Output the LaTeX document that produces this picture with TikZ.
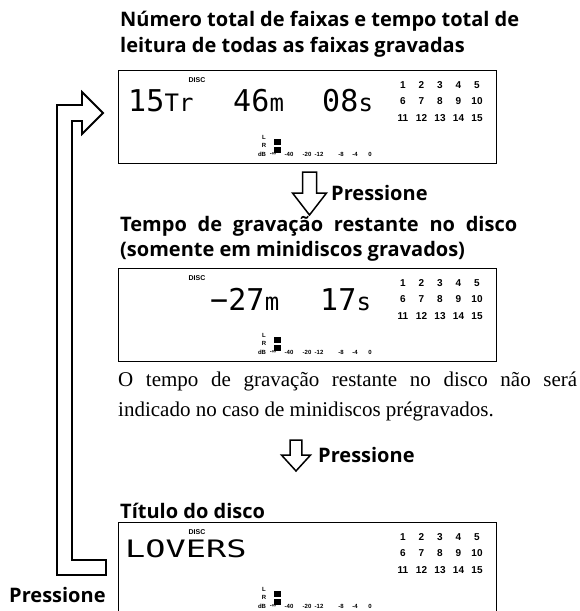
\documentclass[tikz,border=0pt]{standalone}
\usepackage{fontspec}
\setmainfont{Liberation Serif}
\newfontfamily\headfont{Open Sans}
\newfontfamily\smallfont{Liberation Sans}
\newfontfamily\lcdfont{DejaVu Sans Mono}
\usetikzlibrary{positioning}

% visor de cristal liquido: moldura, DISC, faixas e medidor
\newcommand{\lcdpanel}[2]{%
  \node[panel] (#1) at (118,#2) {};
  \begin{scope}[shift={(118,#2)}]
    \node[disc] (#1-disc) at (79,10) {DISC};
    % grelha de faixas
    \foreach \n in {1,...,15} {
      \pgfmathtruncatemacro{\col}{mod(\n-1,5)}
      \pgfmathtruncatemacro{\row}{div(\n-1,5)}
      \node[track] (#1-t\n) at (285+18.5*\col,15+16.5*\row) {\n};
    }
    % medidor de nivel
    \node[tiny] (#1-l) at (146,67) {L};
    \node[tiny] (#1-r) at (146,75.5) {R};
    \node[tiny] (#1-db) at (144,84) {dB};
    \fill (156,69) rectangle (163,75);
    \fill (156,77) rectangle (163,83);
    \foreach \v/\x in {-∞/155,-40/171,-20/189,-12/201,-8/223,-4/237,0/252}
      \node[tiny] (#1-s\x) at (\x,84) {\v};
  \end{scope}}

% seta oca para baixo
\newcommand{\pressarrow}[4]{%
  \draw[hollow, shift={(#1,#2)}, xscale=#3, yscale=#4]
    (-7,0) -- (7,0) -- (7,21) -- (17,21) -- (0,43) -- (-17,21) -- (-7,21) -- cycle;}

\begin{document}
\begin{tikzpicture}[x=1pt, y=-1pt,
    panel/.style={draw, line width=1.2pt, anchor=north west, inner sep=0pt,
      minimum width=378pt, minimum height=93pt},
    disc/.style={font=\smallfont\bfseries\fontsize{7}{7}\selectfont, inner sep=0pt},
    tiny/.style={font=\smallfont\bfseries\fontsize{6}{6}\selectfont, inner sep=0pt},
    track/.style={font=\smallfont\bfseries\fontsize{10}{10}\selectfont, inner sep=0pt},
    lcd/.style={font=\lcdfont\fontsize{30}{30}\selectfont, inner sep=0pt, anchor=base west},
    lcdsmall/.style={font=\lcdfont\fontsize{24}{24}\selectfont, inner sep=0pt, anchor=base west},
    heading/.style={font=\headfont\bfseries\fontsize{20}{24}\selectfont, inner sep=0pt, anchor=base west},
    body/.style={font=\fontsize{21}{25}\selectfont, inner sep=0pt, anchor=base west},
    hollow/.style={draw, line width=1.5pt, line join=miter}]

  \fill[white] (0,0) rectangle (580,611);
  \useasboundingbox (0,0) rectangle (580,611);

  % Primeiro visor
  \node[heading] (h1a) at (120,26) {\makebox[399pt][s]{Número total de faixas e tempo total de}};
  \node[heading] (h1b) at (120,52) {leitura de todas as faixas gravadas};
  \lcdpanel{p1}{70}
  \node[lcd] (p1-num) at (128,111) {15};
  \node[lcdsmall] (p1-tr) at (p1-num.base east) {Tr};
  \node[lcd] (p1-min) at (233,111) {46};
  \node[lcdsmall] (p1-m) at (p1-min.base east) {m};
  \node[lcd] (p1-sec) at (322,111) {08};
  \node[lcdsmall] (p1-s) at (p1-sec.base east) {s};

  \pressarrow{309.5}{172}{1}{1}
  \node[heading] (k1) at (331,200) {Pressione};

  % Segundo visor
  \node[heading] (h2a) at (120,231) {\makebox[397pt][s]{Tempo de gravação restante no disco}};
  \node[heading] (h2b) at (120,256) {(somente em minidiscos gravados)};
  \lcdpanel{p2}{268}
  \node[lcd] (p2-min) at (210,310) {−27};
  \node[lcdsmall] (p2-m) at (p2-min.base east) {m};
  \node[lcd] (p2-sec) at (320,310) {17};
  \node[lcdsmall] (p2-s) at (p2-sec.base east) {s};

  \node[body] (n1) at (118,386) {\makebox[459pt][s]{O tempo de gravação restante no disco não será}};
  \node[body] (n2) at (118,416) {indicado no caso de minidiscos prégravados.};

  \pressarrow{296}{440}{0.85}{0.72}
  \node[heading] (k2) at (318,462) {Pressione};

  % Terceiro visor
  \node[heading] (h3) at (120,518) {Título do disco};
  \lcdpanel{p3}{522}
  \node[lcdsmall] (p3-title) at (125,557) {\scalebox{1.4}[1]{LOVERS}};

  % Seta de retorno
  \draw[hollow, line width=1.8pt] (106,575) -- (57,575) -- (57,105) -- (82,105)
    -- (82,92) -- (103,113) -- (82,134) -- (82,121) -- (72,121) -- (72,560)
    -- (106,560) -- cycle;
  \node[heading] (k3) at (9,602) {Pressione};
\end{tikzpicture}
\end{document}
